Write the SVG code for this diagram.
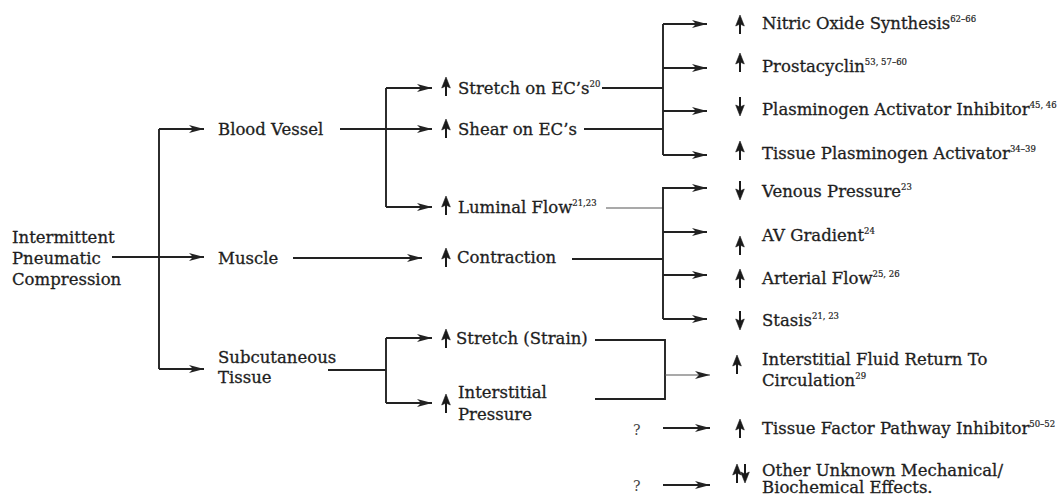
<svg xmlns="http://www.w3.org/2000/svg" width="1063" height="496" viewBox="0 0 1063 496">
<style>
text{font-family:"DejaVu Serif","Liberation Serif",serif;font-size:16.5px;fill:#1e1e1e;stroke:#1e1e1e;stroke-width:0.3;}
.sup{font-size:8.5px;stroke-width:0.2;}
.q{font-size:14px;fill:#444;stroke:none;}
.c{fill:none;stroke:#222;stroke-width:1.9;}
.t{fill:none;stroke:#555;stroke-width:1.1;}
.g{fill:#1a1a1a;stroke:#1a1a1a;}
</style>
<defs>
<marker id="ah" markerUnits="userSpaceOnUse" markerWidth="16" markerHeight="10" refX="15" refY="4" orient="auto">
<path d="M0,0 L15,4 L0,8 L4,4 Z" fill="#222"/>
</marker>
<g id="up" class="g"><path d="M0,0 L4.3,11 L0,9 L-4.3,11 Z" stroke-width="0.6"/><line x1="0" y1="8" x2="0" y2="19" stroke-width="2"/></g>
<g id="dn" class="g"><path d="M0,19 L4.3,8 L0,10 L-4.3,8 Z" stroke-width="0.6"/><line x1="0" y1="0" x2="0" y2="11" stroke-width="2"/></g>
</defs>

<g id="connectors">
<path class="c" d="M112,257 L204,257" marker-end="url(#ah)"/>
<path class="c" d="M159,129 L159,369"/>
<path class="c" d="M159,129 L204,129" marker-end="url(#ah)"/>
<path class="c" d="M159,369 L204,369" marker-end="url(#ah)"/>

<path class="c" d="M340,129 L432,129" marker-end="url(#ah)"/>
<path class="c" d="M386,88 L386,207"/>
<path class="c" d="M386,88 L432,88" marker-end="url(#ah)"/>
<path class="c" d="M386,207 L432,207" marker-end="url(#ah)"/>

<path class="c" d="M293,258 L422,258" marker-end="url(#ah)"/>

<path class="c" d="M328,370 L386,370"/>
<path class="c" d="M386,338 L386,403"/>
<path class="c" d="M386,338 L432,338" marker-end="url(#ah)"/>
<path class="c" d="M386,403 L432,403" marker-end="url(#ah)"/>

<path class="c" d="M602,88 L663,88"/>
<path class="c" d="M584,129 L663,129"/>
<path class="c" d="M663,24 L663,155"/>
<path class="c" d="M663,24 L707,24" marker-end="url(#ah)"/>
<path class="c" d="M663,68 L707,68" marker-end="url(#ah)"/>
<path class="c" d="M663,111 L707,111" marker-end="url(#ah)"/>
<path class="c" d="M663,155 L707,155" marker-end="url(#ah)"/>

<path class="t" d="M606,208 L663,208"/>
<path class="c" d="M572,259 L663,259"/>
<path class="c" d="M663,187 L663,319"/>
<path class="c" d="M663,188 L707,188" marker-end="url(#ah)"/>
<path class="c" d="M663,232 L707,232" marker-end="url(#ah)"/>
<path class="c" d="M663,275 L707,275" marker-end="url(#ah)"/>
<path class="c" d="M663,319 L707,319" marker-end="url(#ah)"/>

<path class="c" d="M595,340 L665,340 L665,399 L595,399"/>
<path class="t" d="M665,375 L710,375" marker-end="url(#ah)"/>

<path class="c" d="M663,428 L710,428" marker-end="url(#ah)"/>
<path class="c" d="M663,485 L710,485" marker-end="url(#ah)"/>
</g>

<g id="ipc"><text x="12" y="243">Intermittent</text><text x="12" y="264">Pneumatic</text><text x="12" y="285">Compression</text></g>
<g id="blood-vessel"><text x="218" y="135">Blood Vessel</text></g>
<g id="muscle"><text x="218" y="264">Muscle</text></g>
<g id="subcutaneous"><text x="218" y="363">Subcutaneous</text><text x="218" y="383">Tissue</text></g>

<g id="stretch-ec"><use href="#up" x="446" y="77"/><text x="458" y="94">Stretch on EC’s<tspan class="sup" dy="-7">20</tspan></text></g>
<g id="shear-ec"><use href="#up" x="446" y="119"/><text x="458" y="135">Shear on EC’s</text></g>
<g id="luminal"><use href="#up" x="446" y="196"/><text x="458" y="213">Luminal Flow<tspan class="sup" dy="-7">21,23</tspan></text></g>
<g id="contraction"><use href="#up" x="446" y="248"/><text x="457" y="263">Contraction</text></g>
<g id="stretch-strain"><use href="#up" x="446" y="329"/><text x="456" y="344">Stretch (Strain)</text></g>
<g id="interstitial-pressure"><use href="#up" x="446" y="394"/><text x="458" y="398">Interstitial</text><text x="458" y="420">Pressure</text></g>

<g id="nitric"><use href="#up" x="740" y="15"/><text x="762" y="29">Nitric Oxide Synthesis<tspan class="sup" dy="-7">62–66</tspan></text></g>
<g id="prostacyclin"><use href="#up" x="740" y="53"/><text x="762" y="72">Prostacyclin<tspan class="sup" dy="-7">53, 57–60</tspan></text></g>
<g id="pai"><use href="#dn" x="740" y="97"/><text x="762" y="115">Plasminogen Activator Inhibitor<tspan class="sup" dy="-7">45, 46</tspan></text></g>
<g id="tpa"><use href="#up" x="740" y="141"/><text x="762" y="159">Tissue Plasminogen Activator<tspan class="sup" dy="-7">34–39</tspan></text></g>
<g id="venous"><use href="#dn" x="740" y="181"/><text x="762" y="197">Venous Pressure<tspan class="sup" dy="-7">23</tspan></text></g>
<g id="av"><use href="#up" x="740" y="236"/><text x="762" y="241">AV Gradient<tspan class="sup" dy="-7">24</tspan></text></g>
<g id="arterial"><use href="#up" x="740" y="269"/><text x="762" y="284">Arterial Flow<tspan class="sup" dy="-7">25, 26</tspan></text></g>
<g id="stasis"><use href="#dn" x="740" y="311"/><text x="762" y="326">Stasis<tspan class="sup" dy="-7">21, 23</tspan></text></g>
<g id="fluid-return"><use href="#up" x="737" y="355"/><text x="762" y="365">Interstitial Fluid Return To</text><text x="762" y="386">Circulation<tspan class="sup" dy="-7">29</tspan></text></g>
<g id="tfpi"><text class="q" x="633" y="435">?</text><use href="#up" x="740" y="419"/><text x="762" y="434">Tissue Factor Pathway Inhibitor<tspan class="sup" dy="-7">50–52</tspan></text></g>
<g id="other"><text class="q" x="633" y="491">?</text><use href="#up" x="737" y="464"/><use href="#dn" x="745" y="464"/><text x="762" y="476">Other Unknown Mechanical/</text><text x="762" y="493">Biochemical Effects.</text></g>
</svg>
